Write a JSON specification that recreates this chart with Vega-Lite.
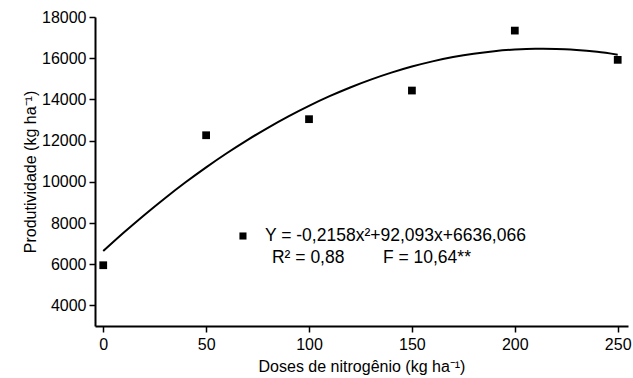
{
  "$schema": "https://vega.github.io/schema/vega-lite/v6.json",
  "width": 533,
  "height": 309,
  "autosize": {"type": "none"},
  "padding": {"left": 95, "top": 17, "right": 5, "bottom": 52},
  "background": "white",
  "config": {
    "font": "Liberation Sans",
    "view": {"stroke": null},
    "axis": {
      "grid": false,
      "domainColor": "black",
      "domainWidth": 2,
      "tickColor": "black",
      "tickWidth": 1.5,
      "tickSize": 6,
      "labelColor": "black",
      "labelFont": "Liberation Sans",
      "labelFontSize": 16,
      "titleFont": "Liberation Sans",
      "titleFontSize": 16,
      "titleFontWeight": "normal",
      "titleColor": "black"
    }
  },
  "datasets": {
    "obs": [
      {"dose": 0, "prod": 5950},
      {"dose": 50, "prod": 12260},
      {"dose": 100, "prod": 13040},
      {"dose": 150, "prod": 14430},
      {"dose": 200, "prod": 17340},
      {"dose": 250, "prod": 15920}
    ],
    "fit": [
      {"dose": 0, "prod": 6636},
      {"dose": 10, "prod": 7535},
      {"dose": 20, "prod": 8392},
      {"dose": 30, "prod": 9205},
      {"dose": 40, "prod": 9975},
      {"dose": 50, "prod": 10701},
      {"dose": 60, "prod": 11385},
      {"dose": 70, "prod": 12025},
      {"dose": 80, "prod": 12622},
      {"dose": 90, "prod": 13177},
      {"dose": 100, "prod": 13687},
      {"dose": 110, "prod": 14155},
      {"dose": 120, "prod": 14580},
      {"dose": 130, "prod": 14961},
      {"dose": 140, "prod": 15299},
      {"dose": 150, "prod": 15595},
      {"dose": 160, "prod": 15847},
      {"dose": 170, "prod": 16055},
      {"dose": 180, "prod": 16221},
      {"dose": 190, "prod": 16343},
      {"dose": 200, "prod": 16423},
      {"dose": 210, "prod": 16459},
      {"dose": 220, "prod": 16452},
      {"dose": 230, "prod": 16402},
      {"dose": 240, "prod": 16308},
      {"dose": 250, "prod": 16172}
    ]
  },
  "layer": [
    {
      "data": {"name": "fit"},
      "mark": {"type": "line", "color": "black", "strokeWidth": 2, "interpolate": "monotone"},
      "encoding": {
        "x": {
          "field": "dose", "type": "quantitative",
          "scale": {"domain": [-4, 255], "nice": false, "zero": false},
          "axis": {"values": [0, 50, 100, 150, 200, 250], "title": "Doses de nitrogênio (kg ha⁻¹)", "labelPadding": 4, "titlePadding": 6}
        },
        "y": {
          "field": "prod", "type": "quantitative",
          "scale": {"domain": [3000, 18000], "nice": false, "zero": false},
          "axis": {"values": [4000, 6000, 8000, 10000, 12000, 14000, 16000, 18000], "format": "d", "title": "Produtividade (kg ha⁻¹)", "labelPadding": 3, "titlePadding": 3}
        }
      }
    },
    {
      "data": {"values": [{}]},
      "mark": {"type": "rect", "fill": "white"},
      "encoding": {
        "x": {"datum": 55, "type": "quantitative"},
        "x2": {"datum": 213.5},
        "y": {"datum": 8146, "type": "quantitative"},
        "y2": {"datum": 5670}
      }
    },
    {
      "data": {"name": "obs"},
      "mark": {"type": "point", "shape": "square", "filled": true, "color": "black", "size": 60, "opacity": 1},
      "encoding": {
        "x": {"field": "dose", "type": "quantitative"},
        "y": {"field": "prod", "type": "quantitative"}
      }
    },
    {
      "data": {"values": [{}]},
      "mark": {"type": "point", "shape": "square", "filled": true, "color": "black", "size": 50, "opacity": 1},
      "encoding": {
        "x": {"datum": 67.9, "type": "quantitative"},
        "y": {"datum": 7369, "type": "quantitative"}
      }
    },
    {
      "data": {"values": [
        {"t": "Y = -0,2158x²+92,093x+6636,066", "px": 78.6, "py": 7126},
        {"t": "R² = 0,88", "px": 82, "py": 6058},
        {"t": "F = 10,64**", "px": 135.9, "py": 6058}
      ]},
      "mark": {"type": "text", "align": "left", "baseline": "alphabetic", "fontSize": 17.5, "color": "black", "font": "Liberation Sans"},
      "encoding": {
        "x": {"field": "px", "type": "quantitative"},
        "y": {"field": "py", "type": "quantitative"},
        "text": {"field": "t"}
      }
    }
  ]
}
